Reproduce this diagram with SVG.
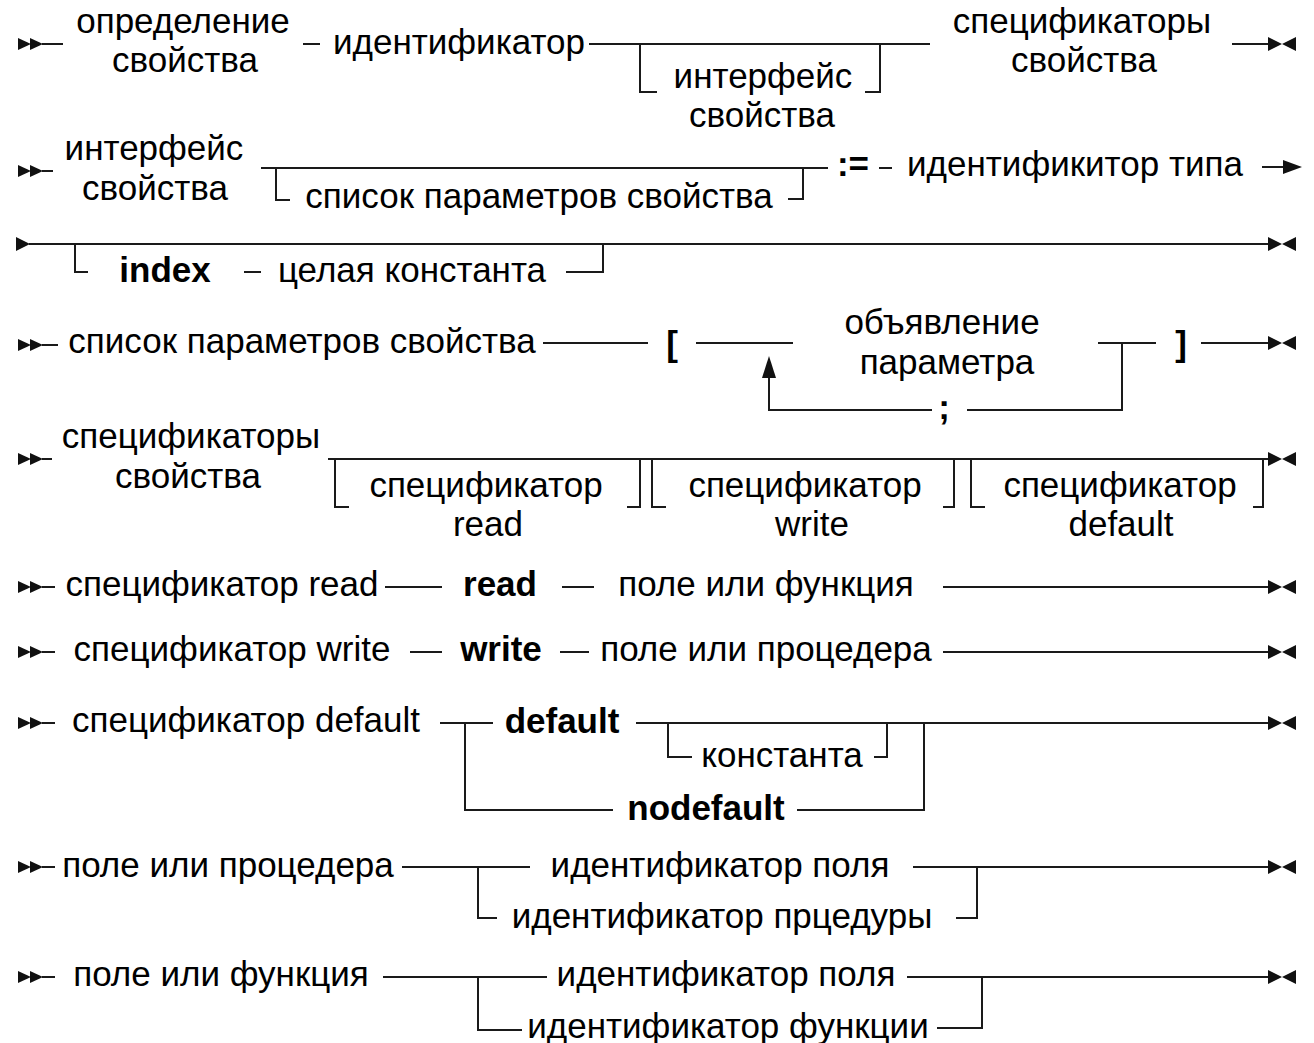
<svg xmlns="http://www.w3.org/2000/svg" xmlns:xlink="http://www.w3.org/1999/xlink" width="1314" height="1043" viewBox="0 0 1314 1043">
<style>
.t{font-family:"Liberation Sans",Arial,"Noto Sans",sans-serif;font-size:35px;fill:#000;text-anchor:middle}
.b{font-weight:bold}
.ln{stroke:#1a1a1a;stroke-width:2;fill:none}
.mk{fill:#111}
</style>
<defs>
<g id="start" class="mk"><polygon points="0,-6 13,0 0,6"/><polygon points="12,-6 25,0 12,6"/></g>
<g id="end" class="mk"><polygon points="0,-7 14,0 0,7"/><polygon points="28,-7 14,0 28,7"/></g>
</defs>
<rect width="1314" height="1043" fill="#fff"/>
<g id="connectors" class="ln">
<path d="M42 44H63M303 44H320M589 44H930M640 44V92H657M880 44V92H865M1232 44H1268"/>
<path d="M42 171H53M261 168H828M276 168V200H290M803 168V199H788M879 168H892M1262 167H1286"/>
<path d="M29 244H1268M75 244V272H88M244 272H261M566 272H603V244"/>
<path d="M42 345H58M543 343H648M696 343H793M1098 343H1156M1122 343V410H967M932 410H769V376M1201 343H1268"/>
<path d="M42 459H52M328 459H1268M335 459V507H349M640 459V507H627M652 459V507H666M954 459V507H943M971 459V507H985M1263 459V507H1253"/>
<path d="M42 587H55M385 587H442M562 587H594M943 587H1268"/>
<path d="M42 652H55M410 652H442M560 652H589M943 652H1268"/>
<path d="M42 723H55M440 723H493M465 723V810H613M636 723H1268M668 723V757H692M874 757H887V723M797 810H924V723"/>
<path d="M42 867H55M402 867H530M478 867V918H497M913 867H1268M977 867V918H956"/>
<path d="M42 977H55M383 977H547M478 977V1030H522M907 977H1268M982 977V1028H937"/>
<g class="mk" stroke="none">
<use xlink:href="#start" x="18" y="44"/>
<use xlink:href="#end" x="1268" y="44"/>
<use xlink:href="#start" x="18" y="171"/>
<polygon points="1283,160 1302,167 1283,174"/>
<polygon points="16,237 30,244 16,251"/>
<use xlink:href="#end" x="1268" y="244"/>
<use xlink:href="#start" x="18" y="345"/>
<polygon points="762,378 769,356 776,378"/>
<use xlink:href="#end" x="1268" y="343"/>
<use xlink:href="#start" x="18" y="459"/>
<use xlink:href="#end" x="1268" y="459"/>
<use xlink:href="#start" x="18" y="587"/>
<use xlink:href="#end" x="1268" y="587"/>
<use xlink:href="#start" x="18" y="652"/>
<use xlink:href="#end" x="1268" y="652"/>
<use xlink:href="#start" x="18" y="723"/>
<use xlink:href="#end" x="1268" y="723"/>
<use xlink:href="#start" x="18" y="867"/>
<use xlink:href="#end" x="1268" y="867"/>
<use xlink:href="#start" x="18" y="977"/>
<use xlink:href="#end" x="1268" y="977"/>
</g>
</g>
<g id="n1-def"><text class="t" x="183" y="33">определение</text><text class="t" x="185" y="72">свойства</text></g>
<g id="n1-ident"><text class="t" x="459" y="54">идентификатор</text></g>
<g id="n1-iface"><text class="t" x="763" y="88">интерфейс</text><text class="t" x="762" y="127">свойства</text></g>
<g id="n1-specs"><text class="t" x="1082" y="33">спецификаторы</text><text class="t" x="1084" y="72">свойства</text></g>
<g id="n2-iface"><text class="t" x="154" y="160">интерфейс</text><text class="t" x="155" y="200">свойства</text></g>
<g id="n2-plist"><text class="t" x="539" y="208">список параметров свойства</text></g>
<g id="n2-assign"><text class="t b" x="853" y="176">:=</text></g>
<g id="n2-type"><text class="t" x="1075" y="176">идентификитор типа</text></g>
<g id="n3-index"><text class="t b" x="165" y="282">index</text></g>
<g id="n3-const"><text class="t" x="412" y="282">целая константа</text></g>
<g id="n4-plist"><text class="t" x="302" y="353">список параметров свойства</text></g>
<g id="n4-lb"><text class="t b" x="672" y="356">[</text></g>
<g id="n4-param"><text class="t" x="942" y="334">объявление</text><text class="t" x="947" y="374">параметра</text></g>
<g id="n4-semi"><text class="t b" x="944" y="419">;</text></g>
<g id="n4-rb"><text class="t b" x="1181" y="356">]</text></g>
<g id="n5-specs"><text class="t" x="191" y="448">спецификаторы</text><text class="t" x="188" y="488">свойства</text></g>
<g id="n5-read"><text class="t" x="486" y="497">спецификатор</text><text class="t" x="488" y="536">read</text></g>
<g id="n5-write"><text class="t" x="805" y="497">спецификатор</text><text class="t" x="812" y="536">write</text></g>
<g id="n5-default"><text class="t" x="1120" y="497">спецификатор</text><text class="t" x="1121" y="536">default</text></g>
<g id="n6-spec"><text class="t" x="222" y="596">спецификатор read</text></g>
<g id="n6-kw"><text class="t b" x="500" y="596">read</text></g>
<g id="n6-field"><text class="t" x="766" y="596">поле или функция</text></g>
<g id="n7-spec"><text class="t" x="232" y="661">спецификатор write</text></g>
<g id="n7-kw"><text class="t b" x="501" y="661">write</text></g>
<g id="n7-field"><text class="t" x="766" y="661">поле или процедера</text></g>
<g id="n8-spec"><text class="t" x="246" y="732">спецификатор default</text></g>
<g id="n8-kw"><text class="t b" x="562" y="733">default</text></g>
<g id="n8-const"><text class="t" x="782" y="767">константа</text></g>
<g id="n8-nodef"><text class="t b" x="706" y="820">nodefault</text></g>
<g id="n9-name"><text class="t" x="228" y="877">поле или процедера</text></g>
<g id="n9-field"><text class="t" x="720" y="877">идентификатор поля</text></g>
<g id="n9-proc"><text class="t" x="722" y="928">идентификатор прцедуры</text></g>
<g id="n10-name"><text class="t" x="221" y="986">поле или функция</text></g>
<g id="n10-field"><text class="t" x="726" y="986">идентификатор поля</text></g>
<g id="n10-func"><text class="t" x="728" y="1038">идентификатор функции</text></g>
</svg>
